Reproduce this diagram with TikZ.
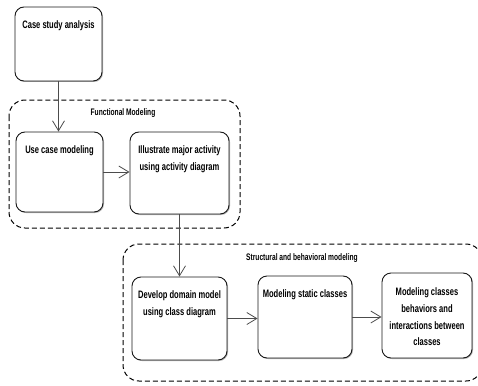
\documentclass[tikz,border=0pt]{standalone}
\usepackage{fontspec}
\setmainfont{Liberation Sans}[FakeStretch=0.7]
\usepackage{tikz}
\usetikzlibrary{arrows.meta,positioning,shadows}

\begin{document}
\begin{tikzpicture}[x=1pt,y=-1pt,>={Straight Barb[length=10pt,width=12pt]},
 box/.style={draw=black!90,line width=.9pt,fill=white,rounded corners=9pt,
 drop shadow={shadow xshift=1pt,shadow yshift=-1pt,fill=black!50,opacity=.6}},
 boxtext/.style={inner sep=0pt,align=center,font=\bfseries\fontsize{10.8}{16.8}\selectfont},
 group/.style={draw=black,line width=1pt,dash pattern=on 5pt off 3pt,rounded corners=16pt},
 grouplabel/.style={inner sep=0pt,font=\bfseries\fontsize{9.5}{10}\selectfont},
 flow/.style={->,draw=black!70,line width=.8pt}]
 \useasboundingbox (0,0) rectangle (478,385);
 % dashed groups
 \draw[group] (9,100) rectangle (240,228);
 \node[grouplabel] (fmlabel) at (123,113) {Functional Modeling};
 \draw[group] (123,244) rectangle (482,381);
 \node[grouplabel] (sblabel) at (302,258) {Structural and behavioral modeling};
 % activities
 \node[box,minimum width=87pt,minimum height=74pt] (csa) at (58.5,44) {};
 \node[boxtext,below=14pt of csa.north] (csat) {Case study analysis};
 \node[box,minimum width=87pt,minimum height=80pt] (ucm) at (59.5,172) {};
 \node[boxtext,below=14pt of ucm.north] (ucmt) {Use case modeling};
 \node[box,minimum width=99pt,minimum height=82pt] (ill) at (179.5,173) {};
 \node[boxtext,below=14pt of ill.north] (illt) {Illustrate major activity\\using activity diagram};
 \node[box,minimum width=95pt,minimum height=83pt] (dev) at (179.5,318.5) {};
 \node[boxtext,below=14pt of dev.north] (devt) {Develop domain model\\using class diagram};
 \node[box,minimum width=94pt,minimum height=82pt] (stat) at (305,317) {};
 \node[boxtext,below=14pt of stat.north] (statt) {Modeling static classes};
 \node[box,minimum width=90pt,minimum height=85pt] (beh) at (427,315.5) {};
 \node[boxtext,below=15pt of beh.north] (beht) {Modeling classes\\behaviors and\\interactions between\\classes};
 % flows
 \draw[flow] (csa.south) -- (csa.south |- ucm.north);
 \draw[flow] (ucm.east) -- (ill.west |- ucm.east);
 \draw[flow] (ill.south) -- (dev.north);
 \draw[flow] (dev.east) -- (stat.west |- dev.east);
 \draw[flow] (stat.east) -- (beh.west |- stat.east);
\end{tikzpicture}
\end{document}
